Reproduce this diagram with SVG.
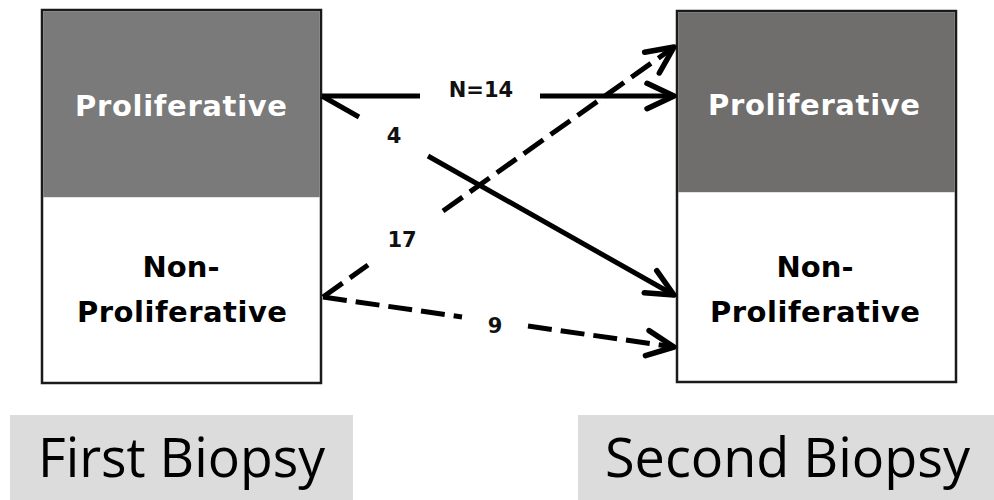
<svg xmlns="http://www.w3.org/2000/svg" width="994" height="500" viewBox="0 0 994 500">
<style>
.box{fill:#fff;stroke:#1a1a1a;stroke-width:2.5}
.lbl{font-family:"DejaVu Sans",Verdana,sans-serif;font-weight:bold;font-size:29px;text-anchor:middle}
.num{font-family:"DejaVu Sans",Verdana,sans-serif;font-weight:bold;font-size:21px;text-anchor:middle;fill:#111}
.cap{font-family:"Open Sans","Liberation Sans",sans-serif;font-size:55px;fill:#000}
.conn{fill:none;stroke:#000;stroke-width:5;marker-end:url(#arr)}
.dash{stroke-dasharray:24 9}
</style>
<defs>
<marker id="arr" markerUnits="userSpaceOnUse" viewBox="-34 -20 40 40" refX="0" refY="0" markerWidth="40" markerHeight="40" orient="auto">
<path d="M-27,-12.7 L0,0 L-27,12.7" fill="none" stroke="#000" stroke-width="5.5" stroke-linecap="round" stroke-linejoin="round"/>
</marker>
</defs>
<rect width="994" height="500" fill="#fff"/>

<g id="first-biopsy">
<rect class="box" x="42" y="10" width="279" height="373"/>
<rect x="43.2" y="11.2" width="276.6" height="186" fill="#7a7a7a"/>
<text class="lbl" x="181" y="116" fill="#fff" textLength="212" lengthAdjust="spacing">Proliferative</text>
<text class="lbl" x="181" y="277" fill="#000">Non-</text>
<text class="lbl" x="182" y="322" fill="#000" textLength="210" lengthAdjust="spacing">Proliferative</text>
</g>

<g id="second-biopsy">
<rect class="box" x="677" y="11" width="279" height="371"/>
<rect x="678.2" y="12.2" width="276.6" height="180" fill="#706d6d"/>
<text class="lbl" x="814" y="115" fill="#fff" textLength="212" lengthAdjust="spacing">Proliferative</text>
<text class="lbl" x="815" y="277" fill="#000">Non-</text>
<text class="lbl" x="815" y="322" fill="#000" textLength="210" lengthAdjust="spacing">Proliferative</text>
</g>

<g id="first-biopsy-caption">
<rect x="10" y="415" width="343" height="85" fill="#dcdcdc"/>
<text class="cap" x="38" y="477" textLength="287" lengthAdjust="spacingAndGlyphs">First Biopsy</text>
</g>

<g id="second-biopsy-caption">
<rect x="578" y="415" width="416" height="85" fill="#dcdcdc"/>
<text class="cap" x="605" y="477" textLength="365" lengthAdjust="spacingAndGlyphs">Second Biopsy</text>
</g>

<g id="connectors">
<path class="conn" d="M322,96 L420,96 M540,96 L674,96"/>
<path class="conn" d="M322,96 L359,117 M428,156 L674,295"/>
<path class="conn dash" d="M323,297 L368,265 M443,211 L674,47"/>
<path class="conn dash" d="M323,297 L462,317 M528,326 L674,347"/>
</g>

<g id="labels">
<text class="num" x="481" y="97">N=14</text>
<text class="num" x="394" y="143">4</text>
<text class="num" x="402" y="247">17</text>
<text class="num" x="495" y="333">9</text>
</g>
</svg>
